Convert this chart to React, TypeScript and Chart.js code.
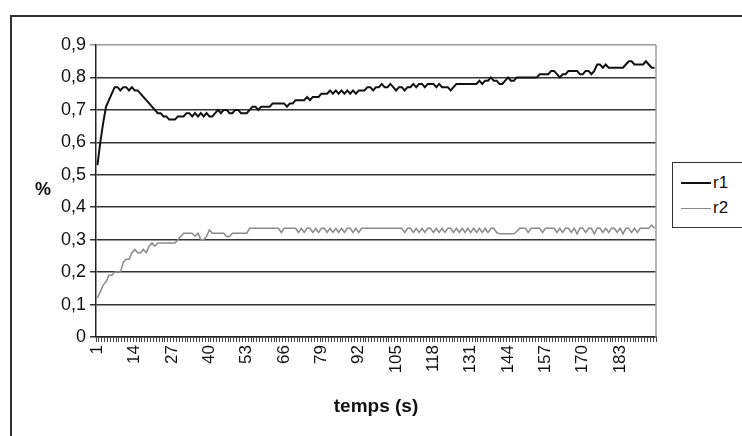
import React, { useEffect, useRef } from "react";
import { Chart, registerables } from "chart.js";

Chart.register(...registerables);

// categories: time in seconds 1..195
const seconds: string[] = Array.from({ length: 195 }, (_, i) => String(i + 1));
const shownTickLabels = ["1", "14", "27", "40", "53", "66", "79", "92", "105", "118", "131", "144", "157", "170", "183"];
const yTickValues = [0, 0.1, 0.2, 0.3, 0.4, 0.5, 0.6, 0.7, 0.8, 0.9];

const r1 = [
  0.53, 0.60, 0.66, 0.71, 0.73, 0.75, 0.77, 0.77, 0.76, 0.77, 0.77, 0.76, 0.77,
  0.76, 0.76, 0.75, 0.74, 0.73, 0.72, 0.71, 0.70, 0.69, 0.69, 0.68, 0.68, 0.67,
  0.67, 0.67, 0.68, 0.68, 0.68, 0.69, 0.69, 0.68, 0.69, 0.68, 0.69, 0.68, 0.69,
  0.68, 0.68, 0.69, 0.70, 0.69, 0.70, 0.70, 0.69, 0.69, 0.70, 0.70, 0.69, 0.69,
  0.69, 0.70, 0.71, 0.71, 0.70, 0.71, 0.71, 0.71, 0.71, 0.72, 0.72, 0.72, 0.72,
  0.72, 0.71, 0.72, 0.72, 0.73, 0.73, 0.73, 0.73, 0.74, 0.73, 0.74, 0.74, 0.74,
  0.75, 0.75, 0.75, 0.76, 0.75, 0.76, 0.75, 0.76, 0.75, 0.76, 0.75, 0.76, 0.75,
  0.76, 0.76, 0.76, 0.77, 0.77, 0.76, 0.77, 0.77, 0.78, 0.77, 0.77, 0.78, 0.77,
  0.76, 0.77, 0.77, 0.76, 0.77, 0.77, 0.78, 0.77, 0.78, 0.78, 0.77, 0.78, 0.78,
  0.78, 0.77, 0.78, 0.77, 0.77, 0.77, 0.76, 0.77, 0.78, 0.78, 0.78, 0.78, 0.78,
  0.78, 0.78, 0.78, 0.79, 0.78, 0.79, 0.79, 0.80, 0.79, 0.79, 0.78, 0.78, 0.79,
  0.80, 0.79, 0.79, 0.80, 0.80, 0.80, 0.80, 0.80, 0.80, 0.80, 0.80, 0.81, 0.81,
  0.81, 0.81, 0.82, 0.82, 0.81, 0.80, 0.81, 0.81, 0.82, 0.82, 0.82, 0.82, 0.81,
  0.81, 0.82, 0.82, 0.81, 0.82, 0.84, 0.84, 0.83, 0.84, 0.83, 0.83, 0.83, 0.83,
  0.83, 0.83, 0.84, 0.85, 0.85, 0.84, 0.84, 0.84, 0.84, 0.85, 0.84, 0.83, 0.83,
];

const r2 = [
  0.12, 0.14, 0.16, 0.17, 0.19, 0.19, 0.20, 0.20, 0.20, 0.23, 0.24, 0.24, 0.26,
  0.27, 0.26, 0.26, 0.27, 0.26, 0.28, 0.29, 0.28, 0.29, 0.29, 0.29, 0.29, 0.29,
  0.29, 0.29, 0.30, 0.31, 0.32, 0.32, 0.32, 0.32, 0.31, 0.32, 0.30, 0.30, 0.31,
  0.33, 0.32, 0.32, 0.32, 0.32, 0.32, 0.31, 0.31, 0.32, 0.32, 0.32, 0.32, 0.32,
  0.32, 0.335, 0.335, 0.335, 0.335, 0.335, 0.335, 0.335, 0.335, 0.335, 0.335, 0.335, 0.322,
  0.335, 0.335, 0.335, 0.335, 0.335, 0.322, 0.335, 0.322, 0.335, 0.335, 0.322, 0.335, 0.322,
  0.335, 0.335, 0.322, 0.335, 0.322, 0.335, 0.322, 0.335, 0.322, 0.335, 0.335, 0.322, 0.335,
  0.322, 0.335, 0.335, 0.335, 0.335, 0.335, 0.335, 0.335, 0.335, 0.335, 0.335, 0.335, 0.335,
  0.335, 0.335, 0.335, 0.322, 0.335, 0.335, 0.322, 0.335, 0.322, 0.335, 0.322, 0.335, 0.335,
  0.322, 0.335, 0.322, 0.335, 0.322, 0.335, 0.335, 0.322, 0.335, 0.322, 0.335, 0.322, 0.335,
  0.322, 0.335, 0.322, 0.335, 0.322, 0.335, 0.322, 0.335, 0.335, 0.322, 0.318, 0.318, 0.318,
  0.318, 0.318, 0.318, 0.325, 0.335, 0.335, 0.335, 0.322, 0.335, 0.335, 0.335, 0.335, 0.322,
  0.335, 0.335, 0.335, 0.335, 0.322, 0.335, 0.322, 0.335, 0.335, 0.322, 0.335, 0.318, 0.335,
  0.335, 0.322, 0.335, 0.335, 0.318, 0.335, 0.335, 0.322, 0.335, 0.322, 0.335, 0.335, 0.322,
  0.335, 0.318, 0.335, 0.335, 0.322, 0.335, 0.322, 0.335, 0.335, 0.335, 0.335, 0.345, 0.335,
];

const FONT = "'Liberation Sans', Arial, sans-serif";

export default function App() {
  const canvasRef = useRef<HTMLCanvasElement | null>(null);

  useEffect(() => {
    const canvas = canvasRef.current;
    if (!canvas) return;
    const plotBorder = {
      id: "plotBorder",
      afterDatasetsDraw(chart: any) {
        const { ctx, chartArea } = chart;
        ctx.save();
        ctx.strokeStyle = "#9a9a9a";
        ctx.lineWidth = 1.5;
        ctx.beginPath();
        ctx.moveTo(chartArea.right, chartArea.top);
        ctx.lineTo(chartArea.right, chartArea.bottom);
        ctx.stroke();
        ctx.restore();
      },
    };
    const chart = new Chart(canvas, {
      type: "line",
      data: {
        labels: seconds,
        datasets: [
          { label: "r1", data: r1, borderColor: "#111111", borderWidth: 2, pointRadius: 0, tension: 0, fill: false },
          { label: "r2", data: r2, borderColor: "#8a8a8a", borderWidth: 1.5, pointRadius: 0, tension: 0, fill: false },
        ],
      },
      options: {
        animation: false,
        responsive: false,
        maintainAspectRatio: false,
        layout: { padding: { top: 45, right: 86, left: 0, bottom: 0 } },
        plugins: { legend: { display: false }, tooltip: { enabled: false } },
        scales: {
          x: {
            type: "category",
            offset: true,
            grid: {
              display: true,
              drawOnChartArea: false,
              drawTicks: true,
              tickLength: 5,
              offset: true,
              color: "#444",
              lineWidth: 1,
            },
            border: { display: true, color: "#222", width: 1.5 },
            ticks: {
              autoSkip: false,
              maxRotation: 90,
              minRotation: 90,
              padding: 3,
              color: "#111",
              font: { family: FONT, size: 17 },
              callback: (_v: any, i: number) => (shownTickLabels.includes(seconds[i]) ? seconds[i] : ""),
            },
            title: {
              display: true,
              text: "temps (s)",
              color: "#111",
              font: { family: FONT, size: 19, weight: "bold" },
              padding: { top: 0, bottom: 18 },
            },
            afterFit: (s: any) => {
              s.height = 99;
            },
          },
          y: {
            min: 0,
            max: 0.9,
            afterBuildTicks: (s: any) => {
              s.ticks = yTickValues.map((v) => ({ value: v }));
            },
            grid: {
              color: (c: any) => (c.tick && Math.abs(c.tick.value - 0.9) < 1e-6 ? "#9a9a9a" : "#333"),
              lineWidth: 1.5,
              tickLength: 6,
              drawTicks: true,
            },
            border: { display: true, color: "#222", width: 1.5 },
            ticks: {
              padding: 4,
              color: "#111",
              font: { family: FONT, size: 18 },
              callback: (v: any) => {
                const n = Math.round(Number(v) * 10) / 10;
                return n === 0 ? "0" : n.toFixed(1).replace(".", ",");
              },
            },
            afterFit: (s: any) => {
              s.width = 96;
            },
          },
        },
      },
      plugins: [plotBorder],
    } as any);
    return () => chart.destroy();
  }, []);

  return (
    <div style={{ position: "fixed", left: 0, top: 0, width: 742, height: 436, overflow: "hidden", background: "#fff", fontFamily: FONT }}>
      <div style={{ position: "absolute", left: 10, top: 15, width: 800, height: 500, borderTop: "2px solid #333", borderLeft: "2px solid #333" }} />
      <canvas ref={canvasRef} width={742} height={436} style={{ position: "absolute", left: 0, top: 0, display: "block" }} />
      <div style={{ position: "absolute", left: 35, top: 179, fontSize: 18, fontWeight: "bold", color: "#111" }}>%</div>
      <div style={{ position: "absolute", left: 672, top: 162, width: 90, height: 64, border: "1.5px solid #333", background: "#fff" }}>
        <div style={{ position: "absolute", left: 8, top: 10, display: "flex", alignItems: "center", fontSize: 17, color: "#111" }}>
          <span style={{ display: "inline-block", width: 30, height: 0, borderTop: "2px solid #111", marginRight: 2 }} />
          <span>r1</span>
        </div>
        <div style={{ position: "absolute", left: 8, top: 35, display: "flex", alignItems: "center", fontSize: 17, color: "#111" }}>
          <span style={{ display: "inline-block", width: 30, height: 0, borderTop: "1.5px solid #8a8a8a", marginRight: 2 }} />
          <span>r2</span>
        </div>
      </div>
    </div>
  );
}
